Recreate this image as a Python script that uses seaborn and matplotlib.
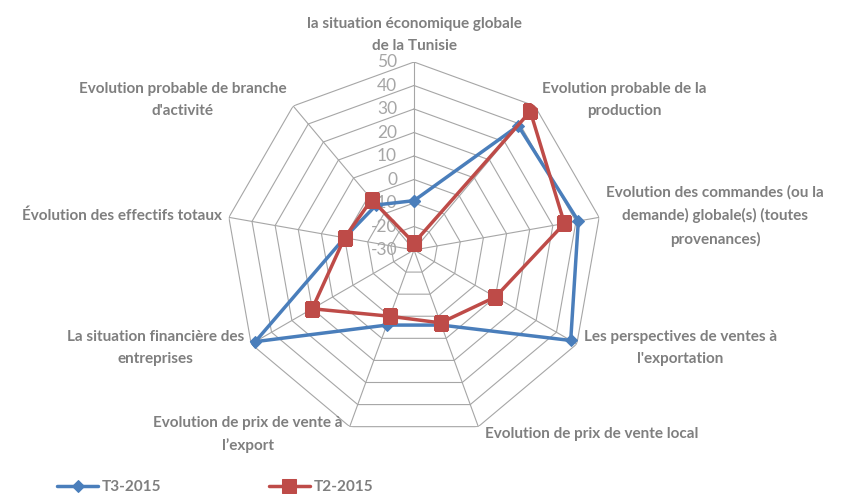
import numpy as np
import matplotlib
matplotlib.use("Agg")
import matplotlib.pyplot as plt
import seaborn as sns

# chart data
categories = [
    "la situation économique globale\nde la Tunisie",
    "Evolution probable de la\nproduction",
    "Evolution des commandes (ou la\ndemande) globale(s) (toutes\nprovenances)",
    "Les perspectives de ventes à\nl'exportation",
    "Evolution de prix de vente local",
    "Evolution de prix de vente à\nl’export",
    "La situation financière des\nentreprises",
    "Évolution des effectifs totaux",
    "Evolution probable de branche\nd'activité",
]
t3_2015 = [-9, 39, 41, 47, 4, 4, 48, 0, -5]
t2_2015 = [-27, 47, 35, 10, 3, 0, 20, 0, -2]
ring_ticks = [-30, -20, -10, 0, 10, 20, 30, 40, 50]

sns.set_style("white")
plt.rcParams["font.family"] = ["Lato", "DejaVu Sans"]

grid_col = "#a6a6a6"
text_col = "#7f7f7f"
blue = "#4a7ebb"
red = "#be4b48"

fig = plt.figure(figsize=(8.42, 4.94), dpi=100)
ax = fig.add_axes([226 / 842, 56 / 494, 376 / 842, 376 / 494], projection="polar")
ax.set_theta_zero_location("N")
ax.set_theta_direction(-1)
ax.set_ylim(ring_ticks[0], ring_ticks[-1])
ax.set_xticks([])
ax.set_yticks([])
ax.grid(False)
ax.spines["polar"].set_visible(False)
ax.patch.set_alpha(0)

n = len(categories)
theta = np.linspace(0, 2 * np.pi, n, endpoint=False)
theta_closed = np.append(theta, theta[0] + 2 * np.pi)

# polygon grid + spokes
for r in ring_ticks[1:]:
    ax.plot(theta_closed, [r] * (n + 1), color=grid_col, lw=0.8, zorder=1)
for t in theta:
    ax.plot([t, t], [ring_ticks[0], ring_ticks[-1]], color=grid_col, lw=0.8, zorder=1)

# ring values on the top spoke
for r in ring_ticks:
    ax.annotate(str(r), xy=(0, r), xytext=(-17, 0), textcoords="offset pixels",
                ha="right", va="center", fontsize=12.5, color="#a6a6a6")

# series
def close(vals):
    return list(vals) + [vals[0]]

sns.lineplot(x=theta_closed, y=close(t3_2015), ax=ax, sort=False, estimator=None,
             color=blue, lw=2.5, marker="D", markersize=6, markeredgecolor=blue,
             label="T3-2015", zorder=3)
sns.lineplot(x=theta_closed, y=close(t2_2015), ax=ax, sort=False, estimator=None,
             color=red, lw=2.5, marker="s", markersize=9.5, markeredgecolor=red,
             label="T2-2015", zorder=4)
ax.get_legend().remove()

# category labels around the outer ring
for t, lab in zip(theta, categories):
    s, c = np.sin(t), np.cos(t)
    if abs(s) < 0.1:
        ha, va, off = "center", "bottom", (0, 9)
    else:
        ha = "left" if s > 0 else "right"
        va = "center"
        off = (7 * np.sign(s), 8 * c)
    ax.annotate(lab, xy=(t, ring_ticks[-1]), xytext=off, textcoords="offset pixels",
                ha=ha, va=va, multialignment="center", fontsize=11,
                fontweight="bold", color=text_col, linespacing=1.7)

handles, labels = ax.get_legend_handles_labels()
fig.legend(handles, labels, loc="center left", bbox_to_anchor=(57 / 842, 7 / 494),
           ncol=2, frameon=False, borderpad=0, borderaxespad=0,
           handlelength=2.7, handletextpad=0.25, columnspacing=7.0,
           labelcolor=text_col, prop={"weight": "bold", "size": 11})

fig.savefig("out.png", dpi=100, facecolor="white")
